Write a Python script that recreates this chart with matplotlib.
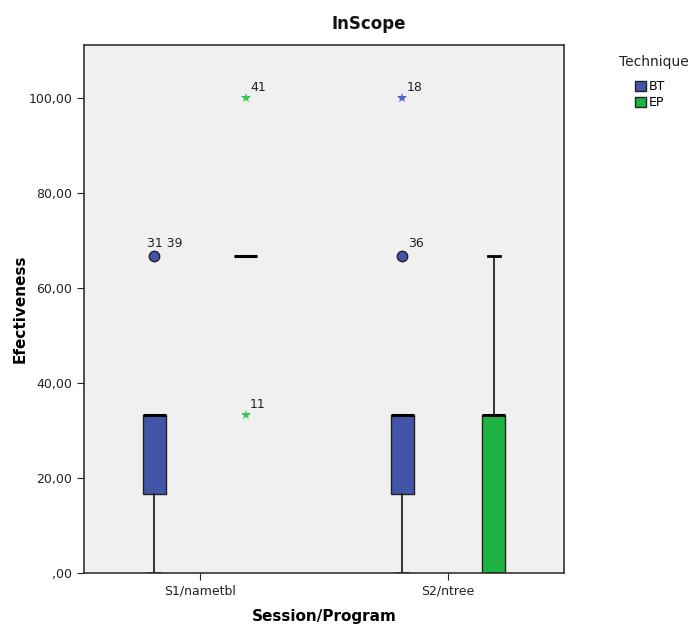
import matplotlib
matplotlib.use("Agg")
import matplotlib.pyplot as plt
from matplotlib.patches import Patch
from matplotlib.ticker import FuncFormatter

# data
sessions = ["S1/nametbl", "S2/ntree"]
techniques = ["BT", "EP"]
colors = {"BT": "#4355A8", "EP": "#1DB343"}
star_colors = {"BT": "#5566C0", "EP": "#3CC45A"}

# box stats per (session, technique), ordered S1-BT, S1-EP, S2-BT, S2-EP
q1 = [16.67, 66.67, 16.67, 0.0]
med = [33.33, 66.67, 33.33, 33.33]
q3 = [33.33, 66.67, 33.33, 33.33]
whislo = [0.0, 66.67, 0.0, 0.0]
whishi = [33.33, 66.67, 33.33, 66.67]

# outliers: circles (mild) and stars (extreme) with case labels
circle_pos = [0, 2]
circle_val = [66.67, 66.67]
circle_lbl = ["31 39", "36"]
star_pos = [1, 1, 2]
star_val = [100.0, 33.33, 100.0]
star_lbl = ["41", "11", "18"]
circle_dx = [-5, 4]

offset = 0.185
width = 0.093
positions = []
box_colors = []
box_tech = []
for i, s in enumerate(sessions):
    for j, t in enumerate(techniques):
        positions.append(i + (offset if j else -offset))
        box_colors.append(colors[t])
        box_tech.append(t)

fig = plt.figure(figsize=(6.91, 6.28), dpi=100)
ax = fig.add_axes([84 / 691, 1 - 573 / 628, 480 / 691, 528 / 628])
ax.set_facecolor("#F0F0F0")

stats = []
for k in range(len(positions)):
    stats.append({"q1": q1[k], "med": med[k], "q3": q3[k],
                  "whislo": whislo[k], "whishi": whishi[k], "fliers": []})

bp = ax.bxp(stats, positions=positions, widths=width, patch_artist=True,
            showfliers=False, manage_ticks=False,
            medianprops=dict(color="black", linewidth=2.2, solid_capstyle="butt"),
            whiskerprops=dict(color="black", linewidth=1.1),
            capprops=dict(color="black", linewidth=2.0),
            boxprops=dict(edgecolor="#222222", linewidth=1.0),
            capwidths=0.05)
for patch, c in zip(bp["boxes"], box_colors):
    patch.set_facecolor(c)

for p, v, lbl, dx in zip(circle_pos, circle_val, circle_lbl, circle_dx):
    ax.plot(positions[p], v, "o", ms=7.5, mfc=box_colors[p], mec="#222222", mew=1)
    ax.annotate(lbl, (positions[p], v), xytext=(dx, 7), textcoords="offset points",
                fontsize=9, color="#222222")
for p, v, lbl in zip(star_pos, star_val, star_lbl):
    ax.plot(positions[p], v, "*", ms=7, color=star_colors[box_tech[p]], mew=0)
    ax.annotate(lbl, (positions[p], v), xytext=(3, 5), textcoords="offset points",
                fontsize=9, color="#222222")

ax.set_xlim(-0.468, 1.468)
ax.set_ylim(0, 111.2)
ax.set_xticks(range(len(sessions)))
ax.set_xticklabels(sessions, fontsize=9, color="#222222")
ax.set_yticks([0, 20, 40, 60, 80, 100])
ax.yaxis.set_major_formatter(FuncFormatter(
    lambda v, _: ",00" if v == 0 else ("%.2f" % v).replace(".", ",")))
ax.tick_params(axis="y", labelsize=9, length=5, colors="#222222")
ax.tick_params(axis="x", length=5, colors="#222222")
for sp in ax.spines.values():
    sp.set_color("#333333")
    sp.set_linewidth(1.2)

ax.set_ylabel("Efectiveness", fontsize=11, fontweight="bold")
ax.yaxis.set_label_coords(-0.133, 0.5)
ax.set_xlabel("Session/Program", fontsize=11, fontweight="bold")
ax.xaxis.set_label_coords(0.5, -0.083)
ax.xaxis.label.set_va("center")
ax.yaxis.label.set_va("center")
fig.text(369 / 691, 1 - 24 / 628, "InScope", fontsize=12, fontweight="bold",
         ha="center", va="center", color="#111111")

fig.text(654 / 691, 1 - 62 / 628, "Technique", fontsize=10, ha="center", va="center",
         color="#222222")
handles = [Patch(facecolor=colors[t], edgecolor="#222222", label=t) for t in techniques]
fig.legend(handles=handles, loc="upper left",
           bbox_to_anchor=(632 / 691, 1 - 78 / 628), frameon=False,
           fontsize=9, handlelength=0.9, handleheight=0.9,
           handletextpad=0.2, labelspacing=0.2, borderaxespad=0, borderpad=0.2)

fig.savefig("out.png", dpi=100)
